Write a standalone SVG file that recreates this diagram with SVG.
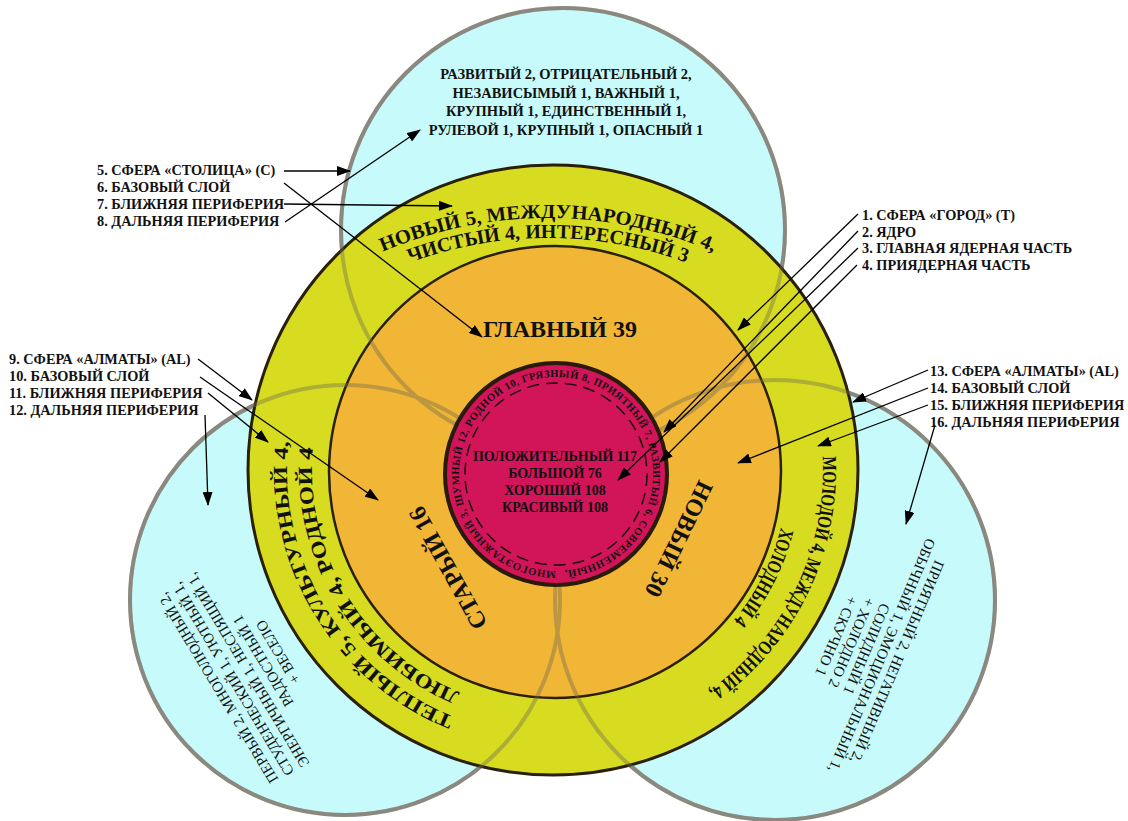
<svg xmlns="http://www.w3.org/2000/svg" width="1128" height="821" viewBox="0 0 1128 821">
<defs>
<style>
.lbl{font-family:"Liberation Serif","Times New Roman",serif;font-weight:bold;font-size:14.3px;fill:#111}
.ring{font-family:"Liberation Serif","Times New Roman",serif;font-weight:bold;font-size:20px;fill:#111}
.big{font-family:"Liberation Serif","Times New Roman",serif;font-weight:bold;font-size:24px;fill:#111}
.core{font-family:"Liberation Serif","Times New Roman",serif;font-weight:bold;font-size:14px;fill:#111}
.small{font-family:"Liberation Serif","Times New Roman",serif;font-weight:bold;font-size:10.5px;fill:#111}
.cy{font-family:"Liberation Serif","Times New Roman",serif;font-size:15px;fill:#111}
.conn line{stroke:#000;stroke-width:1.3;fill:none}
</style>
<marker id="ah" markerWidth="14" markerHeight="10" refX="13" refY="5" orient="auto" markerUnits="userSpaceOnUse"><path d="M0,0 L14,5 L0,10 z" fill="#000"/></marker>
<path id="pTopO" d="M153.3,494.4 A420,420 0 0 1 942.7,494.4"/>
<path id="pTopI" d="M172.1,501.2 A400,400 0 0 1 923.9,501.2"/>
<path id="pLeftO" d="M511.4,732.7 A266,266 0 0 1 301.5,383.4"/>
<path id="pLeftI" d="M515.3,708 A241,241 0 0 1 325.1,391.5"/>
<path id="pRightO" d="M815,404.7 A270,270 0 0 1 662.8,716.7"/>
<path id="pRightI" d="M782,417.1 A235,235 0 0 1 644.8,686.3"/>
<path id="pCore" d="M556,571 A97,97 0 1 1 556,377 A97,97 0 1 1 556,571"/>
</defs>
<rect width="1128" height="821" fill="#fff"/>

<g id="sphere-capital">
<circle cx="563" cy="230" r="222" fill="#C6FAFB" stroke="#9E9E9E" stroke-width="4"/>
</g>
<g id="sphere-almaty-left">
<circle cx="345" cy="600" r="215" fill="#C6FAFB" stroke="#9E9E9E" stroke-width="4"/>
</g>
<g id="sphere-almaty-right">
<circle cx="775" cy="600" r="220" fill="#C6FAFB" stroke="#9E9E9E" stroke-width="4"/>
</g>

<g id="city-periphery">
<circle cx="553" cy="470" r="305" fill="#D8DC20" stroke="#2A200A" stroke-width="3"/>
</g>
<g id="city-base">
<circle cx="555" cy="472" r="226" fill="#F2B636" stroke="#2A200A" stroke-width="2.5"/>
</g>
<g id="overlap-arcs" fill="none" stroke="#6E6A50" stroke-width="4" opacity="0.4">
<circle cx="563" cy="230" r="222"/>
<circle cx="345" cy="600" r="215"/>
<circle cx="775" cy="600" r="220"/>
</g>
<g id="core">
<circle cx="556" cy="474" r="111" fill="#D21459" stroke="#2A1A0A" stroke-width="4"/>
<circle cx="556" cy="474" r="91" fill="none" stroke="#1A0A0A" stroke-width="1.5" stroke-dasharray="12 7"/>
<text class="small"><textPath href="#pCore" textLength="600" lengthAdjust="spacing">МНОГОЭТАЖНЫЙ 3, ШУМНЫЙ 12, РОДНОЙ 10, ГРЯЗНЫЙ 8, ПРИЯТНЫЙ 7, РАЗВИТЫЙ 6, СОВРЕМЕННЫЙ,</textPath></text>
<text class="core" text-anchor="middle" x="555" y="461">ПОЛОЖИТЕЛЬНЫЙ 117</text>
<text class="core" text-anchor="middle" x="555" y="478">БОЛЬШОЙ 76</text>
<text class="core" text-anchor="middle" x="555" y="495">ХОРОШИЙ 108</text>
<text class="core" text-anchor="middle" x="555" y="512">КРАСИВЫЙ 108</text>
</g>

<g id="capital-text">
<text class="lbl" text-anchor="middle" x="566" y="79" style="font-size:14.5px">РАЗВИТЫЙ 2, ОТРИЦАТЕЛЬНЫЙ 2,</text>
<text class="lbl" text-anchor="middle" x="566" y="97.5" style="font-size:14.5px">НЕЗАВИСЫМЫЙ 1, ВАЖНЫЙ 1,</text>
<text class="lbl" text-anchor="middle" x="566" y="116" style="font-size:14.5px">КРУПНЫЙ 1, ЕДИНСТВЕННЫЙ 1,</text>
<text class="lbl" text-anchor="middle" x="566" y="134.5" style="font-size:14.5px">РУЛЕВОЙ 1, КРУПНЫЙ 1, ОПАСНЫЙ 1</text>
</g>

<g id="ring-texts">
<text class="ring" text-anchor="middle" textLength="340" lengthAdjust="spacingAndGlyphs"><textPath href="#pTopO" startOffset="50%">НОВЫЙ 5, МЕЖДУНАРОДНЫЙ 4,</textPath></text>
<text class="ring" text-anchor="middle" textLength="282" lengthAdjust="spacingAndGlyphs"><textPath href="#pTopI" startOffset="50%">ЧИСТЫЙ 4, ИНТЕРЕСНЫЙ 3</textPath></text>
<text class="ring" text-anchor="middle" textLength="345" lengthAdjust="spacingAndGlyphs"><textPath href="#pLeftO" startOffset="50%">ТЕПЛЫЙ 5, КУЛЬТУРНЫЙ 4,</textPath></text>
<text class="ring" text-anchor="middle" textLength="305" lengthAdjust="spacingAndGlyphs"><textPath href="#pLeftI" startOffset="50%">ЛЮБИМЫЙ 4, РОДНОЙ 4</textPath></text>
<text class="ring" text-anchor="middle" textLength="272" lengthAdjust="spacingAndGlyphs"><textPath href="#pRightO" startOffset="50%">МОЛОДОЙ 4, МЕЖДУНАРОДНЫЙ 4,</textPath></text>
<text class="ring" text-anchor="middle" textLength="105" lengthAdjust="spacingAndGlyphs"><textPath href="#pRightI" startOffset="50%">ХОЛОДНЫЙ 4</textPath></text>
</g>

<g id="base-texts">
<text class="big" text-anchor="middle" x="560" y="337">ГЛАВНЫЙ 39</text>
<text class="big" text-anchor="middle" transform="translate(448,568) rotate(241)" y="8">СТАРЫЙ 16</text>
<text class="big" text-anchor="middle" transform="translate(679,539) rotate(116)" y="8">НОВЫЙ 30</text>
</g>

<g id="left-almaty-text" transform="translate(218,688) rotate(239)">
<text class="cy" text-anchor="middle" x="0" y="5">ПЕРВЫЙ 2, МНОГОЛЮДНЫЙ 2,</text>
<text class="cy" text-anchor="middle" x="0" y="22.5">СТУДЕНЧЕСКИЙ 1, УЮТНЫЙ 1,</text>
<text class="cy" text-anchor="middle" x="0" y="40">ЭНЕРГИЧНЫЙ 1, НЕСПЯЩИЙ 1,</text>
<text class="cy" text-anchor="middle" x="0" y="57.5">РАДОСТНЫЙ 1</text>
<text class="cy" text-anchor="middle" x="0" y="75">+ ВЕСЕЛО</text>
</g>

<g id="right-almaty-text" transform="translate(897,662) rotate(113)">
<text class="cy" text-anchor="middle" x="0" y="5">ПРИЯТНЫЙ 2, НЕГАТИВНЫЙ 2,</text>
<text class="cy" text-anchor="middle" x="0" y="21.5">ОБЫЧНЫЙ 1, ЭМОЦИОНАЛЬНЫЙ 1,</text>
<text class="cy" text-anchor="middle" x="0" y="38">СОЛИДНЫЙ 1</text>
<text class="cy" text-anchor="middle" x="0" y="54.5">+ ХОЛОДНО 2</text>
<text class="cy" text-anchor="middle" x="0" y="71">+ СКУЧНО 1</text>
</g>

<g id="labels-capital">
<text class="lbl" x="97" y="175">5. СФЕРА «СТОЛИЦА» (С)</text>
<text class="lbl" x="97" y="192">6. БАЗОВЫЙ СЛОЙ</text>
<text class="lbl" x="97" y="209">7. БЛИЖНЯЯ ПЕРИФЕРИЯ</text>
<text class="lbl" x="97" y="226">8. ДАЛЬНЯЯ ПЕРИФЕРИЯ</text>
</g>
<g id="labels-city">
<text class="lbl" x="862" y="220">1. СФЕРА «ГОРОД» (Т)</text>
<text class="lbl" x="862" y="237">2. ЯДРО</text>
<text class="lbl" x="862" y="253">3. ГЛАВНАЯ ЯДЕРНАЯ ЧАСТЬ</text>
<text class="lbl" x="862" y="270">4. ПРИЯДЕРНАЯ ЧАСТЬ</text>
</g>
<g id="labels-almaty-left">
<text class="lbl" x="9" y="364">9. СФЕРА «АЛМАТЫ» (AL)</text>
<text class="lbl" x="9" y="381">10. БАЗОВЫЙ СЛОЙ</text>
<text class="lbl" x="9" y="398">11. БЛИЖНЯЯ ПЕРИФЕРИЯ</text>
<text class="lbl" x="9" y="415">12. ДАЛЬНЯЯ ПЕРИФЕРИЯ</text>
</g>
<g id="labels-almaty-right">
<text class="lbl" x="930" y="376">13. СФЕРА «АЛМАТЫ» (AL)</text>
<text class="lbl" x="930" y="393">14. БАЗОВЫЙ СЛОЙ</text>
<text class="lbl" x="930" y="410">15. БЛИЖНЯЯ ПЕРИФЕРИЯ</text>
<text class="lbl" x="930" y="427">16. ДАЛЬНЯЯ ПЕРИФЕРИЯ</text>
</g>

<g id="connectors" class="conn">
<line x1="284" y1="171" x2="350" y2="171" marker-end="url(#ah)"/>
<line x1="284" y1="183" x2="482" y2="337" marker-end="url(#ah)"/>
<line x1="284" y1="204" x2="452" y2="206" marker-end="url(#ah)"/>
<line x1="285" y1="222" x2="420" y2="130" marker-end="url(#ah)"/>
<line x1="858" y1="214" x2="738" y2="330" marker-end="url(#ah)"/>
<line x1="858" y1="231" x2="664" y2="432" marker-end="url(#ah)"/>
<line x1="858" y1="248" x2="618" y2="480" marker-end="url(#ah)"/>
<line x1="857" y1="265" x2="660" y2="462" marker-end="url(#ah)"/>
<line x1="198" y1="359" x2="252" y2="400" marker-end="url(#ah)"/>
<line x1="200" y1="377" x2="378" y2="500" marker-end="url(#ah)"/>
<line x1="208" y1="393" x2="268" y2="442" marker-end="url(#ah)"/>
<line x1="205" y1="415" x2="208" y2="505" marker-end="url(#ah)"/>
<line x1="928" y1="370" x2="853" y2="402" marker-end="url(#ah)"/>
<line x1="928" y1="388" x2="738" y2="463" marker-end="url(#ah)"/>
<line x1="928" y1="405" x2="818" y2="446" marker-end="url(#ah)"/>
<line x1="935" y1="425" x2="906" y2="524" marker-end="url(#ah)"/>
</g>
</svg>
